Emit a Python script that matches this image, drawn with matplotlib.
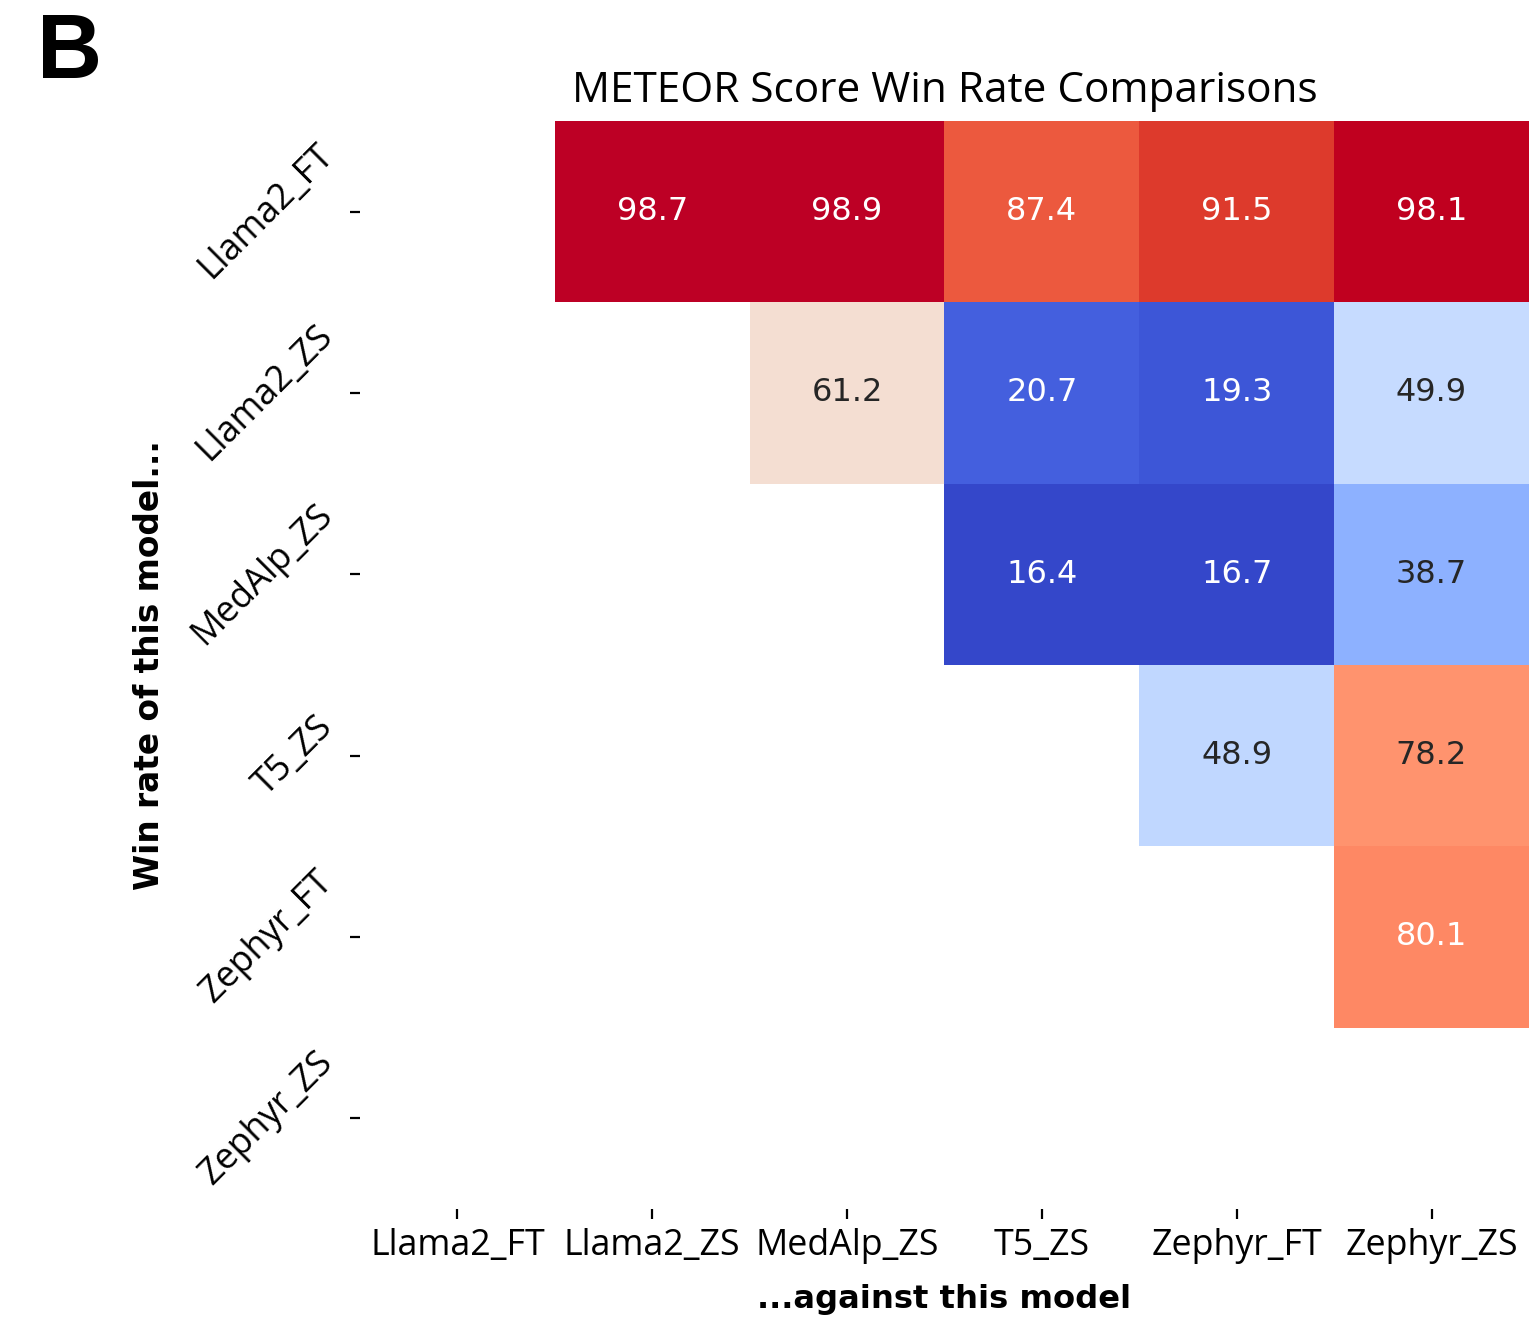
import numpy as np
import matplotlib
matplotlib.use('Agg')
import matplotlib.pyplot as plt
import matplotlib.colors as mcolors
import seaborn as sns

# Models compared (rows = "win rate of this model", cols = "against this model")
models = ['Llama2_FT', 'Llama2_ZS', 'MedAlp_ZS', 'T5_ZS', 'Zephyr_FT', 'Zephyr_ZS']

# Upper triangle of METEOR win rates (%), lower triangle is masked
llama2_ft_row = [np.nan, 98.7, 98.9, 87.4, 91.5, 98.1]
llama2_zs_row = [np.nan, np.nan, 61.2, 20.7, 19.3, 49.9]
medalp_zs_row = [np.nan, np.nan, np.nan, 16.4, 16.7, 38.7]
t5_zs_row = [np.nan, np.nan, np.nan, np.nan, 48.9, 78.2]
zephyr_ft_row = [np.nan, np.nan, np.nan, np.nan, np.nan, 80.1]
zephyr_zs_row = [np.nan] * 6

win_rates = np.array([llama2_ft_row, llama2_zs_row, medalp_zs_row,
                      t5_zs_row, zephyr_ft_row, zephyr_zs_row])
mask = np.tril(np.ones_like(win_rates, dtype=bool))

# coolwarm, reds a bit more saturated like the reference print
base = plt.get_cmap('coolwarm')(np.linspace(0, 1, 256))[:, :3]
hsv = mcolors.rgb_to_hsv(base)
boost = np.where(np.linspace(0, 1, 256) > 0.5, 1.15, 1.07)
hsv[:, 1] = np.clip(hsv[:, 1] * boost, 0, 1)
hsv[:, 2] = np.clip(hsv[:, 2] * 1.05, 0, 1)
cmap = mcolors.ListedColormap(mcolors.hsv_to_rgb(hsv))

fig = plt.figure(figsize=(7.68, 6.59), dpi=200)
ax = fig.add_axes([0.2344, 0.0827, 0.7610, 0.8255])

sns.heatmap(win_rates, mask=mask, cmap=cmap, annot=True, fmt='.1f', cbar=False,
            xticklabels=models, yticklabels=models, ax=ax,
            annot_kws={'size': 11.5, 'family': 'DejaVu Sans'})

# text colour on the cells: dark on the pale ones
for t in ax.texts:
    v = float(t.get_text())
    t.set_color('#262626' if 30 < v < 79 else 'white')

ax.set_xticklabels(models, rotation=0, fontsize=12.9, family='Open Sans')
ax.set_yticklabels(models, rotation=45, fontsize=12.9, family='Open Sans')

ax.set_title('METEOR Score Win Rate Comparisons', fontsize=15.2, family='Open Sans', pad=7)
ax.set_xlabel('...against this model', fontsize=11.6, fontweight='bold', family='DejaVu Sans',
              labelpad=7)
ax.set_ylabel('Win rate of this model...', fontsize=11.8, fontweight='bold', family='DejaVu Sans',
              labelpad=7)

fig.text(0.024, 0.991, 'B', fontsize=32.5, fontweight='bold', family='Liberation Sans', va='top')

fig.savefig('out.png', dpi=200)
